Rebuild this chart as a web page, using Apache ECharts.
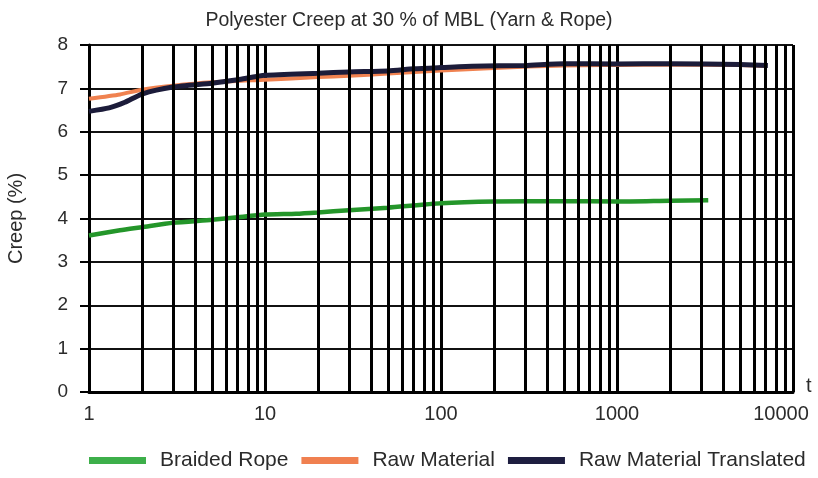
<!DOCTYPE html>
<html>
<head>
<meta charset="utf-8">
<script src="https://cdn.jsdelivr.net/npm/echarts@6/dist/echarts.min.js"></script>
<style>html,body{margin:0;padding:0;background:#fff}#c{width:818px;height:478px}</style>
</head>
<body>
<div id="c"></div>
<script>
// Data (t in hours, creep in %)
const braidT = [1, 1.5, 2, 3, 5, 7, 10, 15, 20, 30, 50, 100, 200, 500, 1000, 2000, 3300];
const braidV = [3.61, 3.73, 3.8, 3.9, 3.97, 4.03, 4.09, 4.11, 4.14, 4.19, 4.25, 4.35, 4.39, 4.4, 4.39, 4.41, 4.42];
const rawT = [1, 1.5, 2, 3, 5, 10, 20, 30, 50, 100, 200, 500, 1000, 2000, 5000, 7000];
const rawV = [6.76, 6.86, 6.97, 7.06, 7.14, 7.2, 7.26, 7.29, 7.34, 7.41, 7.47, 7.53, 7.54, 7.55, 7.54, 7.52];
const transT = [1, 1.3, 1.6, 2, 3, 5, 7, 10, 20, 30, 50, 70, 100, 150, 300, 500, 1000, 2000, 5000, 7200];
const transV = [6.47, 6.55, 6.68, 6.87, 7.03, 7.12, 7.2, 7.3, 7.35, 7.38, 7.4, 7.45, 7.48, 7.51, 7.53, 7.57, 7.56, 7.57, 7.55, 7.53];
const minorGridT = [2,3,4,5,6,7,8,9,20,30,40,50,60,70,80,90,200,300,400,500,600,700,800,900,2000,3000,4000,5000,6000,7000,8000,9000];
const seriesNames = ['Braided Rope', 'Raw Material', 'Raw Material Translated'];
const lineColors = ['#24962a', '#f08250', '#1c1c3a'];
const legendColors = ['#3daf4a', '#f08050', '#1e1e40'];

const zip = (a, b) => a.map((t, i) => [t, b[i]]);
const textColor = '#2b2b2b';
const font = 'Liberation Sans, Arial, sans-serif';
const xMax = 10000;

const chart = echarts.init(document.getElementById('c'), null, {renderer: 'canvas'});
chart.setOption({
  animation: false,
  title: {
    text: 'Polyester Creep at 30 % of MBL (Yarn & Rope)',
    left: 'center', top: 6,
    textStyle: {fontSize: 19.5, fontWeight: 'normal', color: textColor, fontFamily: font}
  },
  legend: {
    left: 84, bottom: 2,
    icon: 'rect', itemWidth: 57, itemHeight: 7, itemGap: 13,
    textStyle: {fontSize: 21, color: textColor, fontFamily: font, padding: [0, 0, 0, 9]},
    data: seriesNames.map((n, i) => ({name: n, itemStyle: {color: legendColors[i]}}))
  },
  grid: {left: 89, right: 25, top: 45, bottom: 86, containLabel: false, outerBoundsMode: 'none'},
  xAxis: {
    type: 'log', logBase: 10, min: 1, max: xMax,
    name: 't', nameLocation: 'end', nameGap: 13,
    nameTextStyle: {fontSize: 20, color: textColor, fontFamily: font, verticalAlign: 'bottom', padding: [0, 0, -4, 0]},
    axisLine: {show: true, lineStyle: {color: '#000', width: 3}},
    axisTick: {show: false},
    axisLabel: {
      fontSize: 20, color: textColor, fontFamily: font, margin: 12,
      formatter: v => Math.round(v) === xMax ? '{e|' + Math.round(v) + '}' : String(Math.round(v)),
      rich: {e: {fontSize: 20, color: textColor, fontFamily: font, padding: [0, 24, 0, 0]}}
    },
    splitLine: {show: true, lineStyle: {color: '#000', width: 3}}
  },
  yAxis: {
    type: 'value', min: 0, max: 8, interval: 1,
    name: 'Creep (%)', nameLocation: 'middle', nameGap: 63,
    nameTextStyle: {fontSize: 20, color: textColor, fontFamily: font},
    axisLine: {show: true, lineStyle: {color: '#000', width: 3}},
    axisTick: {show: true, length: 9, lineStyle: {color: '#000', width: 2}},
    axisLabel: {fontSize: 19, color: textColor, fontFamily: font, margin: 21},
    splitLine: {show: true, lineStyle: {color: '#111', width: 2}}
  },
  series: [
    {
      name: '__grid', type: 'line', data: [], z: 1, silent: true,
      markLine: {
        silent: true, symbol: ['none', 'none'], animation: false,
        label: {show: false},
        lineStyle: {color: '#000', width: 3, type: 'solid'},
        data: minorGridT.map(t => ({xAxis: t}))
      }
    },
    {name: seriesNames[0], type: 'line', data: zip(braidT, braidV), showSymbol: false, smooth: 0.2, z: 3,
     itemStyle: {color: lineColors[0]}, lineStyle: {color: lineColors[0], width: 4.5}},
    {name: seriesNames[1], type: 'line', data: zip(rawT, rawV), showSymbol: false, smooth: 0.2, z: 3,
     itemStyle: {color: lineColors[1]}, lineStyle: {color: lineColors[1], width: 4}},
    {name: seriesNames[2], type: 'line', data: zip(transT, transV), showSymbol: false, smooth: 0.2, z: 4,
     itemStyle: {color: lineColors[2]}, lineStyle: {color: lineColors[2], width: 5}}
  ]
});
</script>
</body>
</html>
